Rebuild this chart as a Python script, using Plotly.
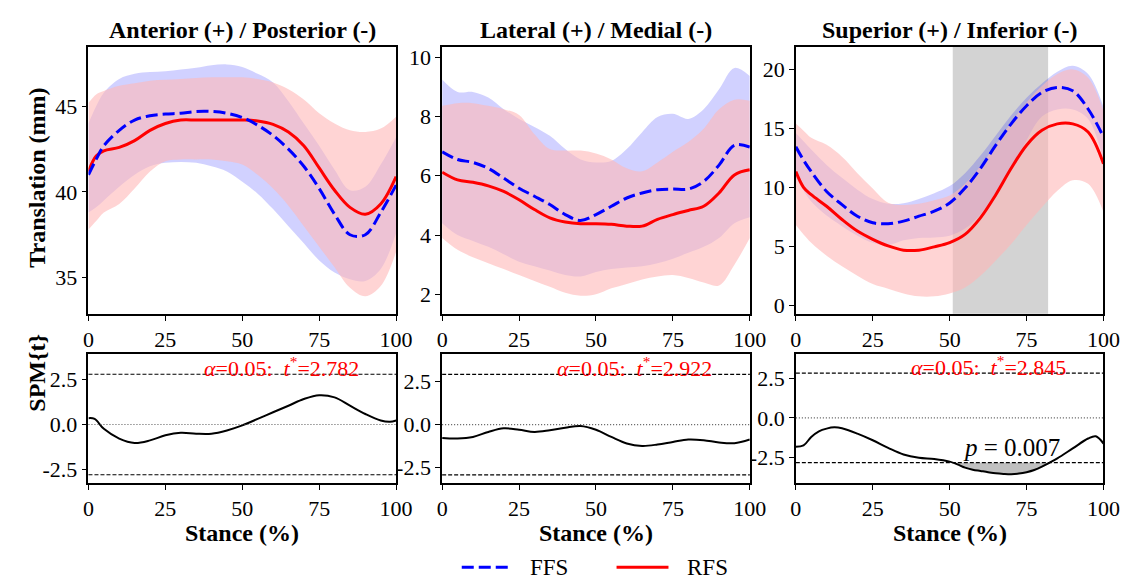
import plotly.graph_objects as go

# ---------------- data ----------------
TITLES = ["Anterior (+) / Posterior (-)", "Lateral (+) / Medial (-)", "Superior (+) / Inferior (-)"]
X_TICKS = [0, 25, 50, 75, 100]
GROUPS = ["FFS", "RFS"]

# Panel 1: Anterior / Posterior
x1 = [0, 2.5, 5, 10, 15, 20, 25, 30, 35, 40, 45, 50, 55, 60, 65, 70, 75, 80, 85, 90, 95, 100]
ffs1 = [41.0, 41.9, 42.7, 43.6, 44.2, 44.45, 44.55, 44.6, 44.7, 44.7, 44.6, 44.35, 43.9, 43.3, 42.5, 41.5, 40.2, 38.7, 37.5, 37.5, 38.8, 40.4]
rfs1 = [41.2, 42.1, 42.4, 42.6, 43.0, 43.6, 44.0, 44.2, 44.2, 44.2, 44.2, 44.2, 44.15, 43.95, 43.5, 42.7, 41.4, 40.1, 39.1, 38.7, 39.3, 40.9]
ffs1_hi = [44.0, 45.0, 45.8, 46.6, 46.9, 47.0, 47.05, 47.15, 47.25, 47.4, 47.45, 47.3, 46.9, 46.4, 45.3, 44.0, 42.7, 41.3, 40.1, 40.3, 41.6, 43.2]
ffs1_lo = [38.8, 39.1, 39.5, 40.3, 41.0, 41.5, 41.7, 41.75, 41.7, 41.5, 41.2, 40.6, 39.9, 39.0, 38.0, 37.0, 36.0, 35.3, 34.9, 34.8, 35.5, 37.6]
rfs1_hi = [45.2, 45.7, 45.9, 46.2, 46.35, 46.5, 46.55, 46.6, 46.65, 46.7, 46.7, 46.7, 46.6, 46.4, 46.0, 45.4, 44.6, 44.0, 43.6, 43.5, 43.7, 44.4]
rfs1_lo = [37.8, 38.3, 38.8, 39.3, 40.2, 41.2, 41.8, 41.9, 41.9, 41.9, 41.8, 41.6, 41.0, 40.2, 39.2, 38.0, 36.8, 35.6, 34.4, 33.9, 34.5, 36.5]

# Panel 2: Lateral / Medial
x2 = [0, 5, 10, 15, 20, 25, 30, 35, 40, 45, 50, 55, 60, 65, 70, 75, 80, 85, 90, 95, 100]
ffs2 = [6.81, 6.55, 6.45, 6.25, 5.92, 5.58, 5.31, 5.03, 4.69, 4.49, 4.69, 4.97, 5.25, 5.42, 5.53, 5.55, 5.55, 5.81, 6.36, 7.03, 6.97]
rfs2 = [6.12, 5.86, 5.78, 5.66, 5.47, 5.19, 4.86, 4.58, 4.44, 4.38, 4.38, 4.36, 4.30, 4.30, 4.53, 4.69, 4.83, 4.97, 5.42, 6.03, 6.2]
ffs2_hi = [9.25, 8.83, 8.83, 8.64, 8.25, 7.92, 7.65, 7.35, 6.9, 6.55, 6.45, 6.5, 6.9, 7.47, 7.98, 8.09, 7.92, 8.25, 8.92, 9.64, 9.37]
ffs2_lo = [4.4, 4.0, 3.8, 3.6, 3.35, 3.1, 2.95, 2.8, 2.65, 2.6, 2.75, 2.85, 2.9, 2.95, 3.05, 3.2, 3.4, 3.6, 3.9, 4.4, 4.6]
rfs2_hi = [8.36, 8.45, 8.45, 8.36, 8.25, 8.05, 7.4, 6.9, 6.85, 6.85, 6.75, 6.55, 6.25, 6.15, 6.45, 6.81, 7.14, 7.59, 8.25, 8.57, 8.53]
rfs2_lo = [3.9, 3.5, 3.25, 3.05, 2.85, 2.65, 2.45, 2.25, 2.05, 1.95, 2.0, 2.2, 2.35, 2.5, 2.6, 2.65, 2.55, 2.4, 2.3, 3.0, 3.9]

# Panel 3: Superior / Inferior
x3 = [0, 2.5, 5, 10, 15, 20, 25, 30, 35, 40, 45, 50, 55, 60, 65, 70, 75, 80, 85, 90, 95, 100]
ffs3 = [13.43, 12.3, 11.33, 9.65, 8.53, 7.55, 6.99, 6.91, 7.13, 7.55, 7.97, 8.67, 9.93, 11.6, 13.57, 15.38, 16.92, 18.04, 18.46, 18.18, 16.64, 14.27]
rfs3 = [11.33, 10.0, 9.37, 8.39, 7.27, 6.29, 5.59, 5.03, 4.67, 4.67, 4.95, 5.31, 6.01, 7.41, 9.37, 11.61, 13.57, 14.83, 15.38, 15.38, 14.69, 12.0]
ffs3_hi = [14.6, 13.9, 13.2, 11.9, 10.8, 9.8, 9.0, 8.6, 8.65, 9.0, 9.5, 10.1, 11.2, 12.7, 14.4, 16.1, 17.6, 18.8, 19.8, 20.3, 19.6, 16.8]
ffs3_lo = [10.8, 9.7, 8.8, 7.6, 6.7, 5.9, 5.3, 5.1, 5.5, 5.7, 5.75, 5.9, 6.5, 7.7, 9.5, 11.6, 14.0, 16.0, 16.6, 16.6, 15.8, 12.3]
rfs3_hi = [15.4, 14.8, 14.2, 13.6, 12.6, 11.2, 9.9, 8.7, 8.5, 8.6, 8.9, 9.3, 10.3, 11.8, 13.6, 15.5, 17.2, 18.6, 19.6, 20.0, 19.3, 16.5]
rfs3_lo = [6.8, 6.0, 5.3, 4.2, 3.3, 2.5, 1.8, 1.4, 1.0, 0.75, 0.75, 1.0, 1.5, 2.5, 3.8, 5.2, 6.8, 8.3, 9.7, 10.6, 10.3, 7.9]
CLUSTER = [51, 82]  # significant region (% stance)

# SPM{t} curves
x4 = [0, 2, 5, 10, 15, 20, 25, 30, 35, 40, 45, 50, 55, 60, 65, 70, 75, 80, 85, 90, 95, 98, 100]
spm4 = [0.35, 0.31, -0.24, -0.78, -1.02, -0.88, -0.60, -0.46, -0.51, -0.51, -0.33, -0.05, 0.31, 0.68, 1.04, 1.41, 1.62, 1.50, 1.04, 0.58, 0.22, 0.15, 0.22]
x5 = [0, 5, 10, 15, 20, 25, 30, 35, 40, 45, 50, 55, 60, 65, 70, 75, 80, 85, 90, 95, 100]
spm5 = [-0.78, -0.81, -0.72, -0.43, -0.22, -0.30, -0.43, -0.33, -0.18, -0.08, -0.30, -0.72, -1.10, -1.24, -1.16, -1.01, -0.87, -0.91, -1.04, -1.08, -0.87]
x6 = [0, 2.5, 5, 7.5, 10, 12.5, 15, 20, 25, 30, 35, 40, 45, 50, 52.5, 55, 57.5, 60, 62.5, 65, 67.5, 70, 72.5, 75, 77.5, 80, 82.5, 85, 90, 95, 97.5, 100]
spm6 = [-1.84, -1.75, -1.21, -0.85, -0.68, -0.60, -0.66, -1.00, -1.42, -1.90, -2.32, -2.53, -2.61, -2.78, -2.95, -3.16, -3.29, -3.37, -3.45, -3.52, -3.56, -3.58, -3.54, -3.45, -3.31, -3.10, -2.84, -2.57, -1.94, -1.31, -1.17, -1.63]
T_CRIT = [2.782, 2.922, 2.845]
P_VALUE = "0.007"

TOP_YRANGES = [[32.88, 48.49], [1.34, 10.36], [-0.73, 21.93]]
TOP_YTICKS = [[35, 40, 45], [2, 4, 6, 8, 10], [0, 5, 10, 15, 20]]
BOT_YRANGES = [[-3.24, 3.88], [-3.40, 4.08], [-4.14, 4.04]]
BOT_YTICKS = [-2.5, 0.0, 2.5]
BOT_YTICKTEXT = ["-2.5", "0.0", "2.5"]

# ---------------- style ----------------
W, H = 1136, 579
FONT = "Liberation Serif, Times New Roman, serif"
BLUE = "#0000ff"
RED = "#ff0000"
BLUE_BAND = "rgba(0,0,255,0.18)"
RED_BAND = "rgba(255,183,183,0.6)"
FFS_DASH = "12px,5px"

XPIX = [(76, 390), (437, 751), (798, 1112)]
TOP_YPIX = (37, 307)
BOT_YPIX = (348, 478)


def xdom(i):
    a, b = XPIX[i]
    return [a / W, b / W]


def ydom(p):
    a, b = p
    return [1 - b / H, 1 - a / H]


fig = go.Figure()

top = [
    (x1, ffs1, rfs1, ffs1_hi, ffs1_lo, rfs1_hi, rfs1_lo),
    (x2, ffs2, rfs2, ffs2_hi, ffs2_lo, rfs2_hi, rfs2_lo),
    (x3, ffs3, rfs3, ffs3_hi, ffs3_lo, rfs3_hi, rfs3_lo),
]

for i, (xx, fm, rm, fh, fl, rh, rl) in enumerate(top):
    xa, ya = ("x" if i == 0 else f"x{i+1}"), ("y" if i == 0 else f"y{i+1}")
    fig.add_trace(go.Scatter(x=xx, y=fl, mode="lines", line=dict(width=0, shape="spline"),
                             showlegend=False, hoverinfo="skip", xaxis=xa, yaxis=ya))
    fig.add_trace(go.Scatter(x=xx, y=fh, mode="lines", line=dict(width=0, shape="spline"),
                             fill="tonexty", fillcolor=BLUE_BAND, showlegend=False,
                             hoverinfo="skip", xaxis=xa, yaxis=ya))
    fig.add_trace(go.Scatter(x=xx, y=rl, mode="lines", line=dict(width=0, shape="spline"),
                             showlegend=False, hoverinfo="skip", xaxis=xa, yaxis=ya))
    fig.add_trace(go.Scatter(x=xx, y=rh, mode="lines", line=dict(width=0, shape="spline"),
                             fill="tonexty", fillcolor=RED_BAND, showlegend=False,
                             hoverinfo="skip", xaxis=xa, yaxis=ya))
    fig.add_trace(go.Scatter(x=xx, y=rm, mode="lines", name=GROUPS[1],
                             line=dict(color=RED, width=3, shape="spline"),
                             showlegend=False, xaxis=xa, yaxis=ya))
    fig.add_trace(go.Scatter(x=xx, y=fm, mode="lines", name=GROUPS[0],
                             line=dict(color=BLUE, width=3, dash=FFS_DASH, shape="spline"),
                             showlegend=False, xaxis=xa, yaxis=ya))

# significant cluster span (behind bands)
shapes = [dict(type="rect", xref="x3", yref="y3 domain", x0=CLUSTER[0], x1=CLUSTER[1], y0=0, y1=1,
               fillcolor="#d3d3d3", line=dict(width=0), layer="below")]

spm = [(x4, spm4), (x5, spm5), (x6, spm6)]
for j, (xx, yy) in enumerate(spm):
    k = j + 4
    xa, ya = f"x{k}", f"y{k}"
    t = T_CRIT[j]
    idx = [n for n, v in enumerate(yy) if v < -t]
    if idx:
        a, b = idx[0], idx[-1]
        xs_c = []
        if a > 0:
            xs_c.append(xx[a - 1] + (xx[a] - xx[a - 1]) * (-t - yy[a - 1]) / (yy[a] - yy[a - 1]))
        xs_c += [xx[n] for n in idx]
        ys_c = ([-t] if a > 0 else []) + [yy[n] for n in idx]
        if b < len(yy) - 1:
            xs_c.append(xx[b] + (xx[b + 1] - xx[b]) * (-t - yy[b]) / (yy[b + 1] - yy[b]))
            ys_c.append(-t)
        fig.add_trace(go.Scatter(x=[xs_c[0], xs_c[-1]], y=[-t, -t], mode="lines",
                                 line=dict(width=0), showlegend=False, hoverinfo="skip",
                                 xaxis=xa, yaxis=ya))
        fig.add_trace(go.Scatter(x=xs_c, y=ys_c, mode="lines", line=dict(width=0, shape="spline"),
                                 fill="tonexty", fillcolor="#c0c0c0", showlegend=False,
                                 hoverinfo="skip", xaxis=xa, yaxis=ya))
    fig.add_trace(go.Scatter(x=xx, y=yy, mode="lines", line=dict(color="black", width=2, shape="spline"),
                             showlegend=False, xaxis=xa, yaxis=ya))
    for yv in (t, -t):
        shapes.append(dict(type="line", xref=f"{xa} domain", yref=ya, x0=0, x1=1, y0=yv, y1=yv,
                           line=dict(color="black", width=1.2, dash="4px,2px")))
    shapes.append(dict(type="line", xref=f"{xa} domain", yref=ya, x0=0, x1=1, y0=0, y1=0,
                       line=dict(color="#555555", width=1.2, dash="1px,2px")))

annotations = []
for j in range(3):
    k = j + 4
    annotations.append(dict(
        xref=f"x{k}", yref=f"y{k}", x=40, y=T_CRIT[j], xanchor="left", yanchor="middle", yshift=7,
        xshift=-10,
        text=f"<i>α</i>=0.05:  <i>t</i><sup>*</sup>=%.3f" % T_CRIT[j], showarrow=False,
        font=dict(family=FONT, size=22, color=RED)))
annotations.append(dict(xref="x6", yref="y6", x=54, y=-1.86, xanchor="left", yanchor="middle",
                        xshift=-1, text=f"<i>p</i> = {P_VALUE}", showarrow=False,
                        font=dict(family=FONT, size=25, color="black")))

for i in range(3):
    cx = (XPIX[i][0] + XPIX[i][1]) / 2 / W
    annotations.append(dict(xref="paper", yref="paper", x=cx, y=1 - 20 / H, xanchor="center",
                            yanchor="middle", text=f"<b>{TITLES[i]}</b>", showarrow=False,
                            font=dict(family=FONT, size=24, color="black")))
    annotations.append(dict(xref="paper", yref="paper", x=cx, y=1 - 528 / H, xanchor="center",
                            yanchor="middle", text="<b>Stance (%)</b>", showarrow=False,
                            font=dict(family=FONT, size=24, color="black")))
annotations.append(dict(xref="paper", yref="paper", x=24 / W, y=1 - 170 / H, xanchor="center",
                        yanchor="middle", text="<b>Translation (mm)</b>", textangle=-90,
                        showarrow=False, font=dict(family=FONT, size=24, color="black")))
annotations.append(dict(xref="paper", yref="paper", x=24 / W, y=1 - 367 / H, xanchor="center",
                        yanchor="middle", text="<b>SPM{t}</b>", textangle=-90,
                        showarrow=False, font=dict(family=FONT, size=24, color="black")))

# legend (drawn in paper coordinates)
LEG_Y = 1 - 563 / H
shapes.append(dict(type="line", xref="paper", yref="paper", x0=457 / W, x1=507 / W, y0=LEG_Y, y1=LEG_Y,
                   line=dict(color=BLUE, width=3, dash=FFS_DASH)))
shapes.append(dict(type="line", xref="paper", yref="paper", x0=615 / W, x1=668 / W, y0=LEG_Y, y1=LEG_Y,
                   line=dict(color=RED, width=3)))
for txt, xl in zip(GROUPS, (525, 685)):
    annotations.append(dict(xref="paper", yref="paper", x=xl / W, y=LEG_Y, xanchor="left",
                            yanchor="middle", text=txt, showarrow=False,
                            font=dict(family=FONT, size=23, color="black")))

axis_common = dict(showline=True, linecolor="black", linewidth=1.6, mirror=True, ticks="outside",
                   ticklen=5, tickwidth=1.3, tickcolor="black", showgrid=False, zeroline=False,
                   tickfont=dict(family=FONT, size=22, color="black"))

layout = dict(width=W, height=H, margin=dict(l=0, r=0, t=0, b=0), plot_bgcolor="white",
              paper_bgcolor="white", shapes=shapes, annotations=annotations, showlegend=False)

for i in range(6):
    k = i + 1
    xkey = "xaxis" if k == 1 else f"xaxis{k}"
    ykey = "yaxis" if k == 1 else f"yaxis{k}"
    col = i % 3
    yanchor_name = "y" if k == 1 else f"y{k}"
    xanchor_name = "x" if k == 1 else f"x{k}"
    layout[xkey] = dict(domain=xdom(col), anchor=yanchor_name, range=[0, 100], tickvals=X_TICKS,
                        **axis_common)
    if i < 3:
        layout[ykey] = dict(domain=ydom(TOP_YPIX), anchor=xanchor_name, range=TOP_YRANGES[col],
                            tickvals=TOP_YTICKS[col], **axis_common)
    else:
        layout[ykey] = dict(domain=ydom(BOT_YPIX), anchor=xanchor_name, range=BOT_YRANGES[col],
                            tickvals=BOT_YTICKS, ticktext=BOT_YTICKTEXT, **axis_common)

fig.update_layout(**layout)
fig.write_html("out.html")
